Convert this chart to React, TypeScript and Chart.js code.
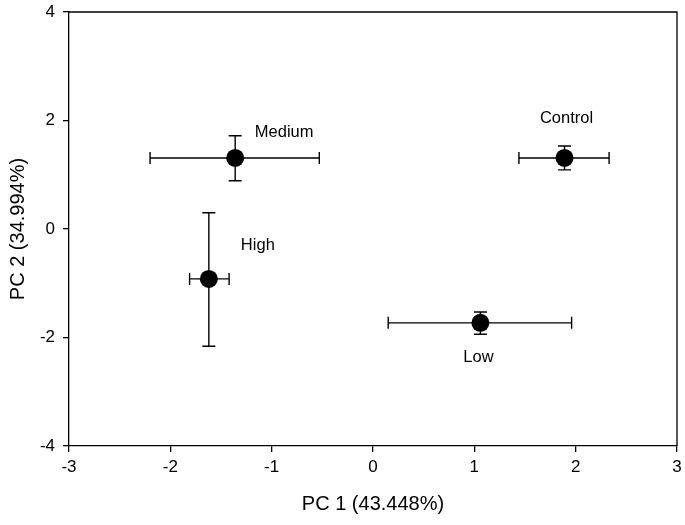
import React, { useEffect, useRef } from "react";
import { Chart, registerables } from "chart.js";

Chart.register(...registerables);

const groups = ["Control", "Low", "Medium", "High"];
const pc1 = [1.89, 1.06, -1.36, -1.62];
const pc2 = [1.31, -1.73, 1.31, -0.92];
const pc1Low = [1.44, 0.15, -2.2, -1.81];
const pc1High = [2.33, 1.96, -0.53, -1.42];
const pc2Low = [1.09, -1.94, 0.89, -2.16];
const pc2High = [1.53, -1.53, 1.72, 0.3];
const xTickRange = [-3, 3];
const yTickRange = [-4, 4];
const xTitle = "PC 1 (43.448%)";
const yTitle = "PC 2 (34.994%)";

const FONT = "'Liberation Sans', Arial, sans-serif";

// label offsets in pixels relative to point (style only)
const labelOffsets: Record<string, [number, number]> = {
  Control: [2, -39],
  Low: [-2, 35],
  Medium: [49, -25],
  High: [49, -33],
};

const overlayPlugin = {
  id: "overlay",
  afterDatasetsDraw(chart: any) {
    const ctx = chart.ctx;
    const xs = chart.scales.x;
    const ys = chart.scales.y;
    const ca = chart.chartArea;
    ctx.save();
    ctx.strokeStyle = "#000";
    ctx.lineWidth = 1.3;
    ctx.beginPath();
    ctx.moveTo(ca.left, ca.top);
    ctx.lineTo(ca.right, ca.top);
    ctx.lineTo(ca.right, ca.bottom);
    ctx.stroke();
    ctx.lineWidth = 1.4;
    for (let i = 0; i < groups.length; i++) {
      const cx = xs.getPixelForValue(pc1[i]);
      const cy = ys.getPixelForValue(pc2[i]);
      const xl = xs.getPixelForValue(pc1Low[i]);
      const xh = xs.getPixelForValue(pc1High[i]);
      const yl = ys.getPixelForValue(pc2Low[i]);
      const yh = ys.getPixelForValue(pc2High[i]);
      ctx.beginPath();
      ctx.moveTo(xl, cy);
      ctx.lineTo(xh, cy);
      ctx.moveTo(xl, cy - 6);
      ctx.lineTo(xl, cy + 6);
      ctx.moveTo(xh, cy - 6);
      ctx.lineTo(xh, cy + 6);
      ctx.moveTo(cx, yl);
      ctx.lineTo(cx, yh);
      ctx.moveTo(cx - 6.5, yl);
      ctx.lineTo(cx + 6.5, yl);
      ctx.moveTo(cx - 6.5, yh);
      ctx.lineTo(cx + 6.5, yh);
      ctx.stroke();
    }
    ctx.fillStyle = "#000";
    for (let i = 0; i < groups.length; i++) {
      const cx = xs.getPixelForValue(pc1[i]);
      const cy = ys.getPixelForValue(pc2[i]);
      ctx.beginPath();
      ctx.arc(cx, cy, 9, 0, Math.PI * 2);
      ctx.fill();
    }
    ctx.font = `16.5px ${FONT}`;
    ctx.textAlign = "center";
    ctx.textBaseline = "middle";
    for (let i = 0; i < groups.length; i++) {
      const cx = xs.getPixelForValue(pc1[i]);
      const cy = ys.getPixelForValue(pc2[i]);
      const off = labelOffsets[groups[i]];
      ctx.fillText(groups[i], cx + off[0], cy + off[1]);
    }
    ctx.restore();
  },
};

export default function App() {
  const ref = useRef<HTMLCanvasElement | null>(null);
  useEffect(() => {
    document.body.style.margin = "0";
    const chart = new Chart(ref.current as HTMLCanvasElement, {
      type: "scatter",
      data: {
        datasets: [
          {
            label: "groups",
            data: pc1.map((x, i) => ({ x, y: pc2[i] })),
            pointRadius: 0,
            showLine: false,
          },
        ],
      },
      options: {
        animation: false,
        responsive: true,
        maintainAspectRatio: false,
        layout: { padding: { left: 0, top: 12, right: 8, bottom: 0 } },
        plugins: { legend: { display: false }, tooltip: { enabled: false } },
        scales: {
          x: {
            type: "linear",
            min: xTickRange[0],
            max: xTickRange[1],
            afterFit: (s: any) => {
              s.height = 79;
              s.paddingLeft = 0;
              s.paddingRight = 0;
            },
            ticks: {
              stepSize: 1,
              color: "#000",
              padding: 5,
              font: { family: FONT, size: 17 },
            },
            grid: {
              display: true,
              drawOnChartArea: false,
              drawTicks: true,
              tickLength: 6,
              color: "#000",
              lineWidth: 1.3,
            },
            border: { display: true, color: "#000", width: 1.3 },
            title: {
              display: true,
              text: xTitle,
              color: "#000",
              font: { family: FONT, size: 20 },
              padding: { top: 0, bottom: 9 },
            },
          },
          y: {
            type: "linear",
            min: yTickRange[0],
            max: yTickRange[1],
            afterFit: (s: any) => {
              s.width = 69;
              s.paddingTop = 0;
              s.paddingBottom = 0;
            },
            ticks: {
              stepSize: 2,
              color: "#000",
              padding: 8,
              font: { family: FONT, size: 17 },
            },
            grid: {
              display: true,
              drawOnChartArea: false,
              drawTicks: true,
              tickLength: 6,
              color: "#000",
              lineWidth: 1.3,
            },
            border: { display: true, color: "#000", width: 1.3 },
            title: {
              display: true,
              text: yTitle,
              color: "#000",
              font: { family: FONT, size: 20 },
              padding: { top: 6, bottom: 0 },
            },
          },
        },
      },
      plugins: [overlayPlugin],
    });
    return () => chart.destroy();
  }, []);
  return (
    <div style={{ position: "relative", width: 685, height: 525, background: "#fff" }}>
      <canvas ref={ref} />
    </div>
  );
}
